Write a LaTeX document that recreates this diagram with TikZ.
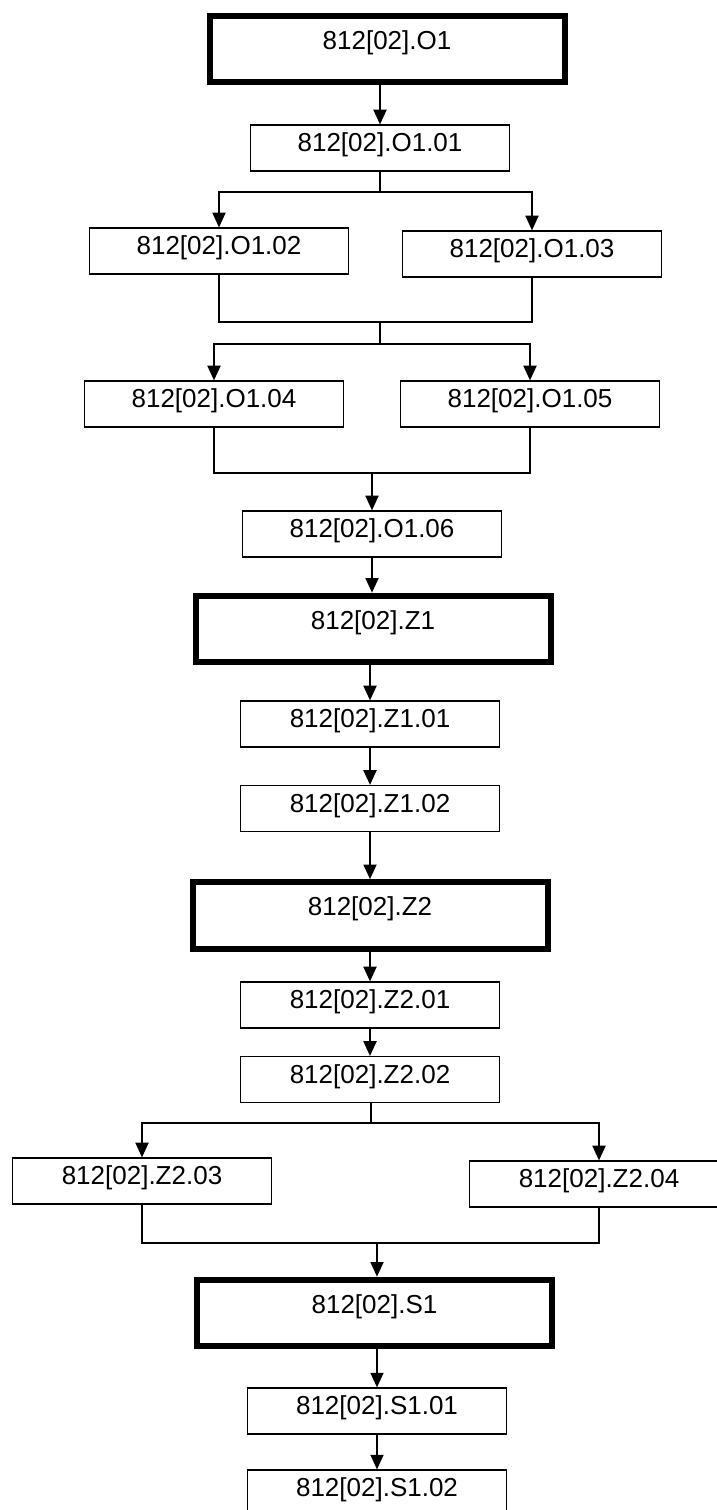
\documentclass[tikz,border=0pt]{standalone}
\usepackage{fontspec}
\setmainfont{Liberation Sans}
\usetikzlibrary{arrows.meta}

\begin{document}
\begin{tikzpicture}[x=0.75pt, y=-0.75pt, >={Triangle[width=9.75pt,length=11pt]},
  subbox/.style={draw, line width=0.9pt, minimum width=194.25pt, inner ysep=0pt,
    text height=20pt, text depth=14.5pt, font=\fontsize{19.5}{23}\selectfont},
  mainbox/.style={draw, line width=4.5pt, minimum width=266.25pt, inner ysep=0pt,
    text height=25pt, text depth=25pt, font=\fontsize{19.5}{23}\selectfont},
  link/.style={line width=1.35pt}]
  \useasboundingbox[fill=white] (0,0) rectangle (717,1510);
  % O1 block
  \node[mainbox] (o1) at (387,49) {812[02].O1};
  \node[subbox] (o101) at (380,148) {812[02].O1.01};
  \node[subbox] (o102) at (219,251) {812[02].O1.02};
  \node[subbox] (o103) at (532,254) {812[02].O1.03};
  \node[subbox] (o104) at (214,404) {812[02].O1.04};
  \node[subbox] (o105) at (530,404) {812[02].O1.05};
  \node[subbox] (o106) at (372,534) {812[02].O1.06};
  % Z1 block
  \node[mainbox] (z1) at (373,629) {812[02].Z1};
  \node[subbox] (z101) at (370,724) {812[02].Z1.01};
  \node[subbox] (z102) at (370,808.5) {812[02].Z1.02};
  % Z2 block
  \node[mainbox] (z2) at (370,915.5) {812[02].Z2};
  \node[subbox] (z201) at (370,1005) {812[02].Z2.01};
  \node[subbox] (z202) at (370,1079.5) {812[02].Z2.02};
  \node[subbox] (z203) at (142,1181) {812[02].Z2.03};
  \node[subbox] (z204) at (599,1184) {812[02].Z2.04};
  % S1 block
  \node[mainbox] (s1) at (374.5,1313) {812[02].S1};
  \node[subbox] (s101) at (377,1411) {812[02].S1.01};
  \node[subbox] (s102) at (377,1493) {812[02].S1.02};
  % junctions
  \coordinate (j1) at (380,192);
  \coordinate (j2) at (380,322);
  \coordinate (j3) at (380,344);
  \coordinate (j4) at (372,473);
  \coordinate (j5) at (371,1123);
  \coordinate (j6) at (377,1243);
  % connectors
  \draw[link,->] (o1.south -| o101.north) -- (o101.north);
  \draw[link] (o101.south) -- (j1);
  \draw[link,->] (j1) -| (o102.north);
  \draw[link,->] (j1) -| (o103.north);
  \draw[link] (o102.south) |- (j2) -| (o103.south);
  \draw[link] (j2) -- (j3);
  \draw[link,->] (j3) -| (o104.north);
  \draw[link,->] (j3) -| (o105.north);
  \draw[link] (o104.south) |- (j4) -| (o105.south);
  \draw[link,->] (j4) -- (o106.north);
  \draw[link,->] (o106.south) -- (o106.south |- z1.north);
  \draw[link,->] (z1.south -| z101.north) -- (z101.north);
  \draw[link,->] (z101.south) -- (z101.south |- z102.north);
  \draw[link,->] (z102.south) -- (z102.south |- z2.north);
  \draw[link,->] (z2.south -| z201.north) -- (z201.north);
  \draw[link,->] (z201.south) -- (z201.south |- z202.north);
  \draw[link] (z202.south -| j5) -- (j5);
  \draw[link,->] (j5) -| (z203.north);
  \draw[link,->] (j5) -| (z204.north);
  \draw[link] (z203.south) |- (j6) -| (z204.south);
  \draw[link,->] (j6) -- (j6 |- s1.north);
  \draw[link,->] (s1.south -| s101.north) -- (s101.north);
  \draw[link,->] (s101.south) -- (s101.south |- s102.north);
\end{tikzpicture}
\end{document}
